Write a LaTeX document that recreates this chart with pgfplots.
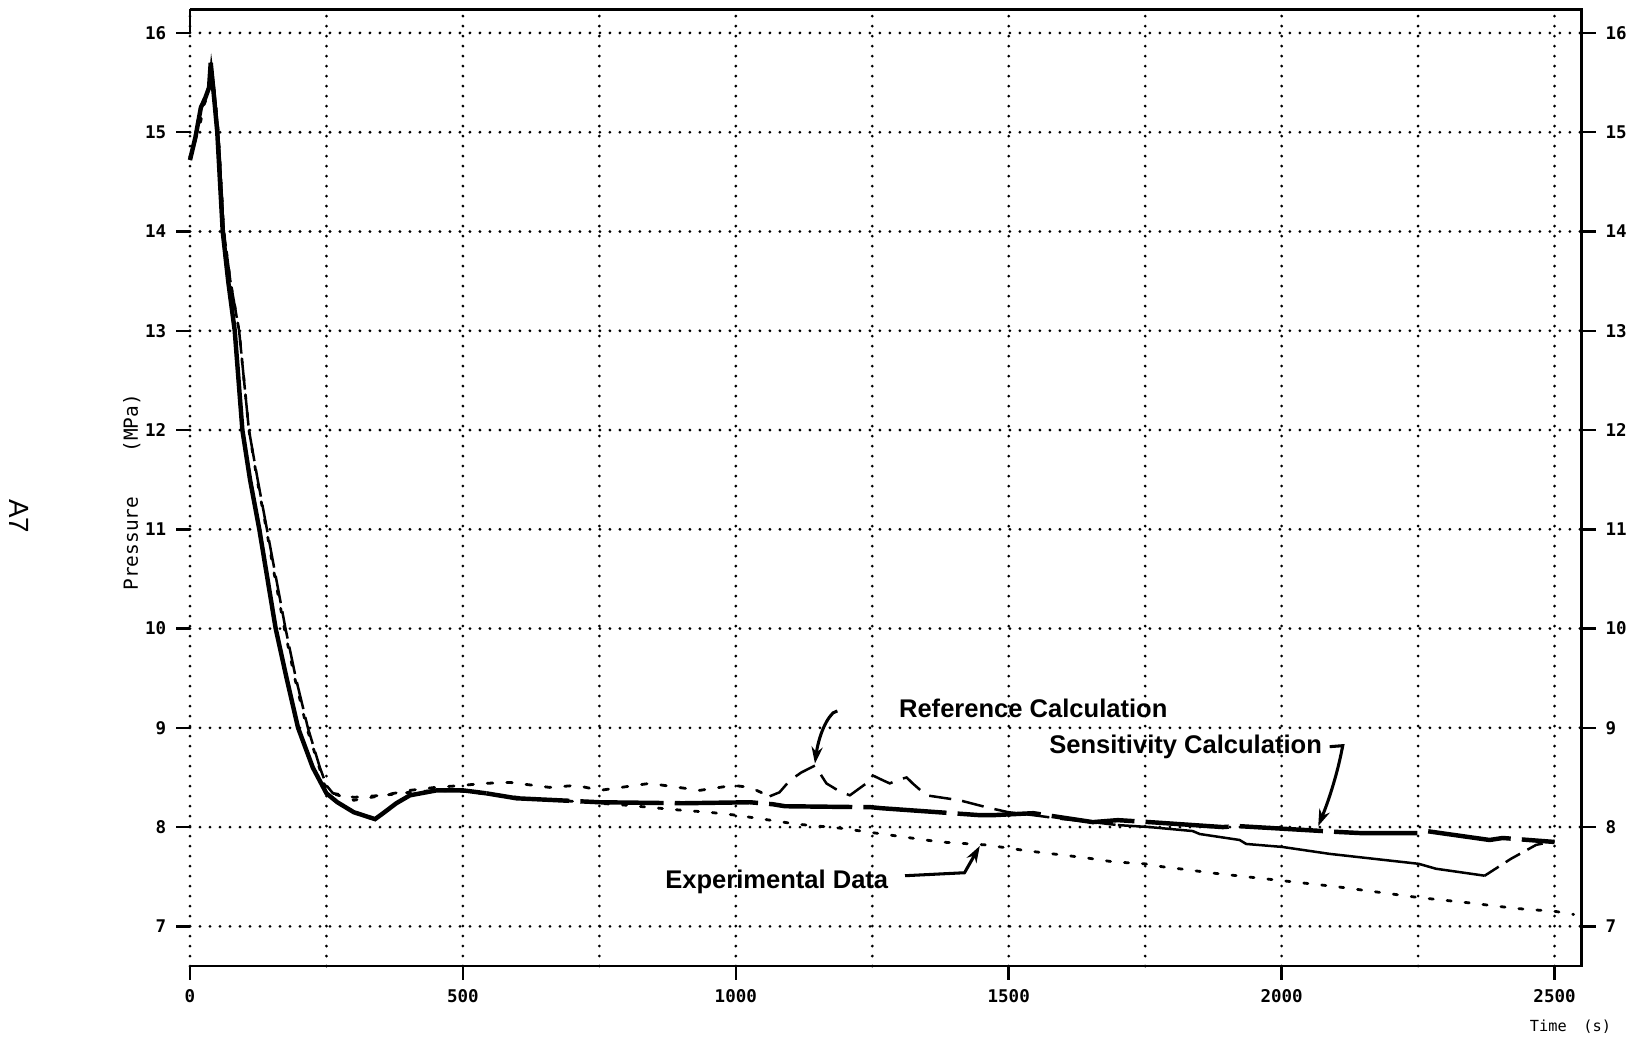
\documentclass[border=0pt]{standalone}
\usepackage{pgfplots}
\pgfplotsset{compat=1.18}
\usepackage{fontspec}
\setmainfont{Liberation Sans}
\newfontfamily\plotfont{DejaVu Sans Mono}
\usetikzlibrary{arrows.meta}

% pressure history, three traces
\pgfplotstableread{
t p
0 14.72
10 14.95
20 15.25
27 15.33
35 15.45
38 15.70
45 15.30
50 15.00
55 14.50
60 14.00
70 13.50
82 13.00
96 12.00
110 11.50
127 11.00
142 10.50
157 10.00
177 9.50
198 9.00
225 8.60
250 8.34
270 8.25
300 8.15
339 8.08
354 8.14
378 8.24
403 8.32
452 8.37
500 8.37
543 8.34
}\senssolid

\pgfplotstableread{
t p
543 8.34
598 8.29
751 8.25
903 8.24
1026 8.25
1068 8.23
1090 8.21
1248 8.20
1267 8.19
1447 8.12
1471 8.12
1545 8.14
1654 8.05
1700 8.07
1758 8.05
1892 8.00
1920 8.01
2106 7.95
2143 7.94
2251 7.94
2265 7.96
2381 7.87
2405 7.89
2500 7.85
}\sensdash

% reference calculation, split by the way the plotter drew it
\pgfplotstableread{
t p
0 14.72
10 14.92
18 15.20
24 15.32
30 15.38
36 15.50
39 15.68
44 15.45
50 15.10
54 14.80
62 14.00
74 13.50
90 13.00
108 12.00
124 11.50
141 11.00
158 10.50
175 10.00
194 9.50
216 9.00
238 8.60
250 8.42
262 8.34
}\refdown

\pgfplotstableread{
t p
262 8.34
300 8.30
354 8.32
403 8.37
450 8.40
500 8.42
537 8.44
586 8.45
659 8.40
708 8.42
751 8.37
842 8.44
934 8.37
995 8.42
1026 8.40
1062 8.31
}\refmid

\pgfplotstableread{
t p
1062 8.31
1080 8.35
1099 8.47
1120 8.55
1145 8.62
1166 8.44
1190 8.36
1209 8.32
1239 8.44
1251 8.52
1270 8.47
1282 8.44
1300 8.48
1313 8.50
1324 8.44
1349 8.32
1410 8.27
1459 8.20
1499 8.15
1545 8.12
1600 8.08
1654 8.05
1700 8.02
}\refbump

\pgfplotstableread{
t p
1700 8.02
1758 8.00
1837 7.96
1850 7.93
1923 7.87
1935 7.83
2001 7.80
2088 7.73
2251 7.63
2283 7.58
2372 7.51
}\reftail

\pgfplotstableread{
t p
2372 7.51
2420 7.68
2466 7.82
2500 7.86
}\refend

\pgfplotstableread{
t p
0 14.75
12 14.97
20 15.12
26 15.28
33 15.38
39 15.62
46 15.35
52 15.00
62 14.00
74 13.50
90 13.00
108 12.00
123 11.50
140 11.00
156 10.50
173 10.00
192 9.50
214 9.00
237 8.60
250 8.36
300 8.27
354 8.32
403 8.35
452 8.37
500 8.36
600 8.30
700 8.26
800 8.22
900 8.17
950 8.15
1000 8.12
1050 8.08
1111 8.03
1190 7.99
1282 7.92
1374 7.85
1459 7.82
1535 7.76
1642 7.69
1691 7.65
1749 7.63
1782 7.60
1828 7.57
1868 7.54
1935 7.50
2001 7.46
2100 7.40
2210 7.32
2251 7.29
2338 7.24
2430 7.18
2502 7.15
2535 7.12
}\expdata

\pgfplotsset{
  plotaxis/.style={
    scale only axis, width=501.1pt, height=344.5pt,
    xmin=0, xmax=2550, ymin=6.6, ymax=16.24,
    axis line style={draw=none},
    tick align=outside, major tick length=5pt, minor tick length=0pt,
    tick style={black, line width=0.9pt},
    ticklabel style={font=\plotfont\bfseries\fontsize{6.3}{7}\selectfont},
    /pgf/number format/assume math mode=true,
    /pgf/number format/1000 sep={},
    ytick={7,...,16},
  },
  dots/.style={black, line width=1.1pt, line cap=round, dash pattern=on 0pt off 3.6pt},
}

\begin{document}
\begin{tikzpicture}
\begin{axis}[
  plotaxis,
  xtick={0,500,...,2500}, minor xtick={250,750,...,2250},
  xtick pos=bottom, ytick pos=left,
  grid=both, major grid style={dots}, minor grid style={dots},
  clip=false,
]
\addplot[black, line width=1.6pt] table {\senssolid};
\addplot[black, line width=1.6pt, dash pattern=on 30pt off 4pt] table {\sensdash};
\addplot[black, line width=0.9pt, dash pattern=on 10pt off 3pt] table {\refdown};
\addplot[black, line width=1pt, line cap=round, dash pattern=on 2pt off 5pt] table {\refmid};
\addplot[black, line width=0.9pt, dash pattern=on 8pt off 4pt] table {\refbump};
\addplot[black, line width=0.9pt] table {\reftail};
\addplot[black, line width=0.9pt, dash pattern=on 6pt off 3pt] table {\refend};
\addplot[black, line width=1pt, line cap=round, dash pattern=on 1.5pt off 5pt] table {\expdata};

% frame: left side is only the dotted grid line
\draw[line width=1pt] (rel axis cs:0,1) -- (rel axis cs:1,1) -- (rel axis cs:1,0) -- (rel axis cs:0,0);
\draw[line width=1pt] (axis cs:0,16.24) -- (axis cs:0,16.0);

\node[font=\bfseries\fontsize{9.2}{11}\selectfont] at (axis cs:1545,9.20) {Reference Calculation};
\node[font=\bfseries\fontsize{9.2}{11}\selectfont] at (axis cs:1824,8.81) {Sensitivity Calculation};
\node[font=\bfseries\fontsize{9.2}{11}\selectfont] at (axis cs:1075,7.45) {Experimental Data};

\draw[line width=1.1pt, -{Stealth[length=6pt,width=4pt]}]
  (axis cs:1186,9.17) -- (axis cs:1178,9.15) .. controls (axis cs:1160,9.05) and (axis cs:1150,8.85) .. (axis cs:1145,8.64);
\draw[line width=1.1pt, -{Stealth[length=6pt,width=4pt]}]
  (axis cs:2088,8.81) -- (axis cs:2112,8.82) -- (axis cs:2109,8.74) .. controls (axis cs:2100,8.50) and (axis cs:2085,8.25) .. (axis cs:2067,8.01);
\draw[line width=1.1pt, -{Stealth[length=6pt,width=4pt]}]
  (axis cs:1310,7.51) -- (axis cs:1419,7.54) -- (axis cs:1447,7.81);
\end{axis}

\begin{axis}[
  plotaxis,
  hide x axis,
  ytick pos=right, yticklabel pos=right,
]
\end{axis}

\node[rotate=90, font=\plotfont\fontsize{7}{8}\selectfont] at (-21pt,170.6pt) {Pressure\hspace{16pt}(MPa)};
\node[rotate=-90, font=\fontsize{10}{12}\selectfont] at (-61.6pt,162pt) {A7};
\node[font=\plotfont\fontsize{5.5}{7}\selectfont] at (497pt,-22pt) {Time\hspace{6pt}(s)};

\pgfresetboundingbox
\path (-68.4pt,-26.3pt) rectangle (517pt,347.8pt);
\end{tikzpicture}
\end{document}
